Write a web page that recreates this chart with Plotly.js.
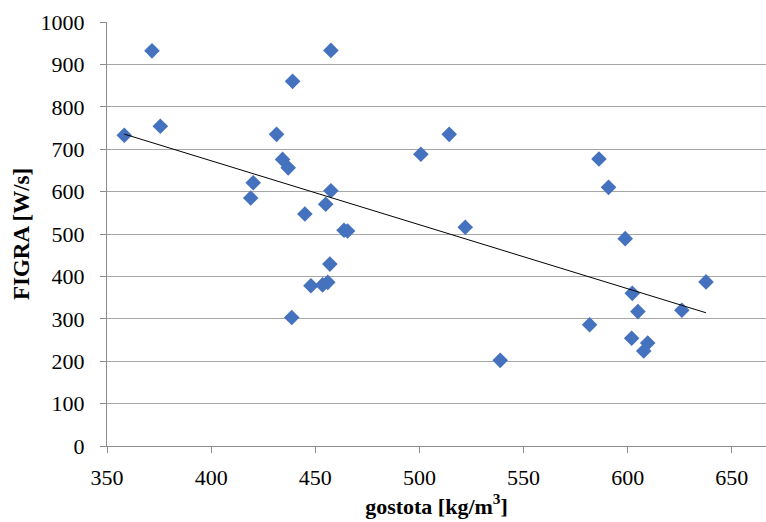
<!DOCTYPE html>
<html>
<head>
<meta charset="utf-8">
<script src="https://cdn.plot.ly/plotly-3.0.1.min.js"></script>
<style>html,body{margin:0;padding:0;background:#fff;}#chart{width:766px;height:522px;}</style>
</head>
<body>
<div id="chart"></div>
<script>
const gostota = [358.3, 371.6, 375.6, 419.0, 420.2, 431.4, 434.3, 437.0, 438.7, 439.1, 445.0, 447.9, 453.5, 455.0, 456.0, 457.0, 457.5, 457.5, 463.8, 465.5, 500.7, 514.3, 522.0, 538.8, 581.7, 586.2, 590.8, 598.8, 601.9, 602.2, 604.9, 607.7, 609.6, 626.0, 637.6];
const figra = [733, 932, 754, 585, 621, 735, 676, 656, 303, 860, 547, 378, 380, 570, 386, 429, 602, 933, 509, 507, 688, 735, 516, 202, 286, 677, 610, 489, 254, 360, 317, 224, 243, 320, 387];
const xTicks = [350, 400, 450, 500, 550, 600, 650];
const yTicks = [0, 100, 200, 300, 400, 500, 600, 700, 800, 900, 1000];

// least-squares linear trendline from the data
const n = gostota.length;
const mx = gostota.reduce((a, b) => a + b, 0) / n;
const my = figra.reduce((a, b) => a + b, 0) / n;
let sxy = 0, sxx = 0;
for (let i = 0; i < n; i++) { sxy += (gostota[i] - mx) * (figra[i] - my); sxx += (gostota[i] - mx) ** 2; }
const slope = sxy / sxx, icpt = my - slope * mx;
const xMin = Math.min(...gostota), xMax = Math.max(...gostota);
const trendX = [xMin, xMax];
const trendY = trendX.map(x => icpt + slope * x);

const font = "'Liberation Serif', 'Times New Roman', serif";
const data = [
  {x: gostota, y: figra, type: 'scatter', mode: 'markers',
   marker: {symbol: 'diamond', size: 12, color: '#4572BE'}, showlegend: false, hoverinfo: 'x+y'},
  {x: trendX, y: trendY, type: 'scatter', mode: 'lines',
   line: {color: '#000000', width: 1}, showlegend: false, hoverinfo: 'skip'}
];
const layout = {
  width: 766, height: 522,
  margin: {l: 107, r: 0, t: 22, b: 76},
  paper_bgcolor: '#ffffff', plot_bgcolor: '#ffffff',
  font: {family: font, size: 22, color: '#000000'},
  xaxis: {
    range: [350, 666.4], tickvals: xTicks, ticktext: xTicks.map(String),
    showgrid: false, zeroline: false, showline: true, linecolor: '#8c8c8c', linewidth: 1,
    ticks: 'outside', ticklen: 6, tickcolor: '#8c8c8c', tickfont: {family: font, size: 22},
    ticklabelstandoff: 6,
    title: {text: '<b>gostota [kg/m<sup>3</sup>]</b>', font: {family: font, size: 22}, standoff: 4}
  },
  yaxis: {
    range: [0, 1000], tickvals: yTicks, ticktext: yTicks.map(String),
    showgrid: true, gridcolor: '#a6a6a6', gridwidth: 1, zeroline: false,
    showline: true, linecolor: '#8c8c8c', linewidth: 1,
    ticks: 'outside', ticklen: 6, tickcolor: '#8c8c8c', tickfont: {family: font, size: 22},
    ticklabelstandoff: 11,
    title: {text: '<b>FIGRA [W/s]</b>', font: {family: font, size: 23}, standoff: 4}
  }
};
Plotly.newPlot('chart', data, layout, {displayModeBar: false, staticPlot: true});
</script>
</body>
</html>
